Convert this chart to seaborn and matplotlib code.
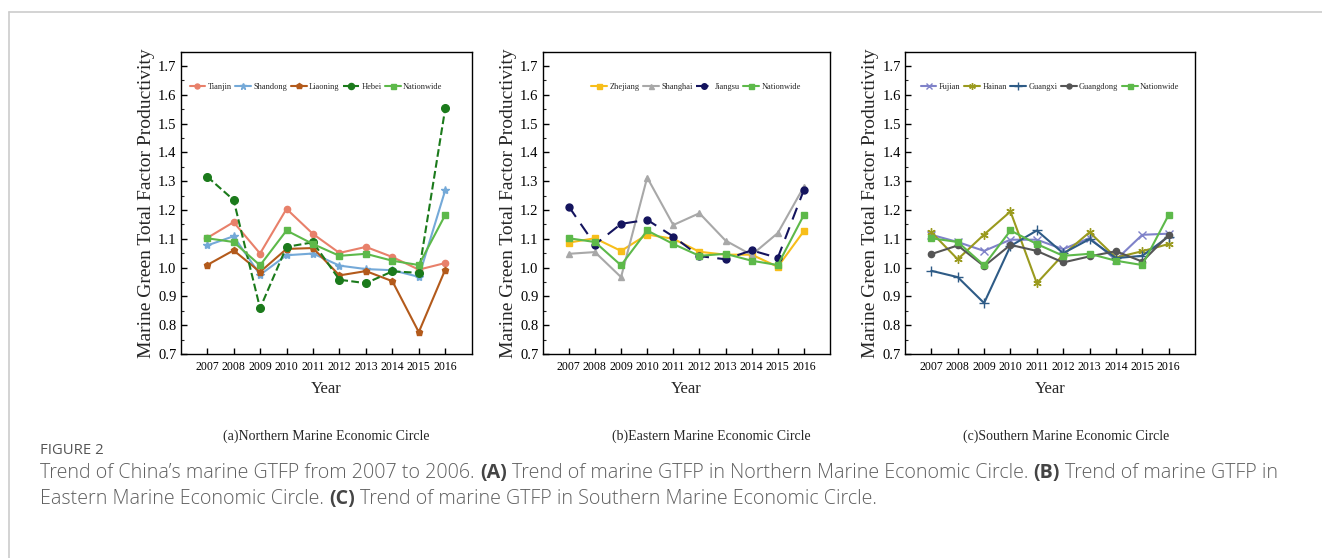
import matplotlib
matplotlib.use("Agg")
import matplotlib.pyplot as plt
from matplotlib.lines import Line2D
from matplotlib.ticker import MultipleLocator
import seaborn as sns

# ---------------- data ----------------
years = list(range(2007, 2017))

nationwide = [1.102, 1.089, 1.008, 1.129, 1.082, 1.041, 1.048, 1.024, 1.009, 1.183]

# Northern circle
tianjin = [1.103, 1.158, 1.049, 1.204, 1.117, 1.051, 1.072, 1.037, 0.993, 1.016]
shandong = [1.077, 1.109, 0.975, 1.043, 1.049, 1.007, 0.995, 0.991, 0.968, 1.269]
liaoning = [1.009, 1.060, 0.985, 1.065, 1.068, 0.973, 0.988, 0.953, 0.776, 0.993]
hebei = [1.316, 1.235, 0.859, 1.072, 1.088, 0.958, 0.946, 0.987, 0.982, 1.553]

# Eastern circle
zhejiang = [1.087, 1.102, 1.058, 1.115, 1.100, 1.055, 1.045, 1.045, 1.003, 1.127]
shanghai = [1.048, 1.054, 0.967, 1.313, 1.148, 1.189, 1.094, 1.044, 1.120, 1.281]
jiangsu = [1.212, 1.080, 1.152, 1.166, 1.108, 1.040, 1.029, 1.060, 1.034, 1.270]

# Southern circle
fujian = [1.114, 1.089, 1.058, 1.097, 1.097, 1.064, 1.103, 1.027, 1.114, 1.118]
hainan = [1.123, 1.029, 1.115, 1.195, 0.946, 1.045, 1.123, 1.035, 1.057, 1.082]
guangxi = [0.989, 0.967, 0.877, 1.075, 1.129, 1.050, 1.099, 1.033, 1.041, 1.108]
guangdong = [1.047, 1.077, 1.005, 1.079, 1.058, 1.018, 1.039, 1.057, 1.021, 1.113]

y_ticks = [0.7, 0.8, 0.9, 1.0, 1.1, 1.2, 1.3, 1.4, 1.5, 1.6, 1.7]
subtitles = ["(a)Northern Marine Economic Circle",
             "(b)Eastern Marine Economic Circle",
             "(c)Southern Marine Economic Circle"]

# ---------------- style ----------------
sns.set_style("ticks")
plt.rcParams["font.family"] = ["Liberation Serif", "DejaVu Serif"]
plt.rcParams["axes.linewidth"] = 1.0

W, H = 1322, 558
fig = plt.figure(figsize=(W / 100, H / 100), dpi=100)
fig.patch.set_facecolor("white")


def axes_px(left, top, right, bottom):
    return fig.add_axes([left / W, 1 - bottom / H, (right - left) / W, (bottom - top) / H])


# name, values, color, marker, marker size, linestyle
north = [
    ("Tianjin", tianjin, "#E8806A", "o", 4.5, "-"),
    ("Shandong", shandong, "#74A9D8", "*", 6, "-"),
    ("Liaoning", liaoning, "#B35A1B", "p", 5, "-"),
    ("Hebei", hebei, "#1B7A1B", "o", 5.5, "--"),
    ("Nationwide", nationwide, "#5DB94A", "s", 4.5, "-"),
]
east = [
    ("Zhejiang", zhejiang, "#F7BE1A", "s", 4.5, "-"),
    ("Shanghai", shanghai, "#A8A8A8", "^", 4.5, "-"),
    ("Jiangsu", jiangsu, "#14145E", "o", 5, (0, (6, 4))),
    ("Nationwide", nationwide, "#5DB94A", "s", 4.5, "-"),
]
south = [
    ("Fujian", fujian, "#7F82C9", "x", 5.5, "-"),
    ("Hainan", hainan, "#9A9A1E", (6, 2, 0), 6, "-"),
    ("Guangxi", guangxi, "#2E5B86", "+", 6.5, "-"),
    ("Guangdong", guangdong, "#555555", "o", 4.5, "-"),
    ("Nationwide", nationwide, "#5DB94A", "s", 4.5, "-"),
]

panels = [
    ((180.7, 51.7, 471.7, 354.0), north, 326, 316),
    ((542.7, 51.7, 830.0, 354.0), east, 711, 696),
    ((905.0, 51.7, 1195.0, 354.0), south, 1066, 1050),
]

for (box, series, sub_x, leg_x), sub in zip(panels, subtitles):
    ax = axes_px(*box)
    for name, vals, color, marker, ms, ls in series:
        sns.lineplot(x=years, y=vals, ax=ax, color=color, marker=marker,
                     markersize=ms, linestyle=ls, linewidth=1.5, label=name,
                     markeredgecolor=color, markeredgewidth=1.0)
    ax.set_xlim(2006, 2017)
    ax.set_ylim(0.7, 1.75)
    ax.set_xticks(years)
    ax.set_xticklabels([str(y) for y in years], fontsize=8.5)
    ax.set_yticks(y_ticks)
    ax.set_yticklabels([f"{v:.1f}" for v in y_ticks], fontsize=10.5)
    ax.yaxis.set_minor_locator(MultipleLocator(0.05))
    ax.tick_params(axis="both", which="major", direction="in", length=4, width=1,
                   pad=3, colors="black")
    ax.tick_params(axis="x", which="major", pad=5)
    ax.tick_params(axis="y", which="minor", direction="in", length=2, width=0.8)
    for sp in ax.spines.values():
        sp.set_visible(True)
        sp.set_color("black")
    ax.set_xlabel("Year", fontsize=12, labelpad=6)
    ax.set_ylabel("Marine Green Total Factor Productivity", fontsize=14)
    ax.yaxis.set_label_coords(-0.088, 0.5)

    box_left, box_top, box_right, box_bottom = box
    lx = (leg_x - box_left) / (box_right - box_left)
    ly = (box_bottom - 87) / (box_bottom - box_top)
    ax.legend(loc="center", bbox_to_anchor=(lx, ly), ncol=len(series),
              frameon=False, fontsize=6, handlelength=1.9, handletextpad=0.3,
              columnspacing=0.4, borderaxespad=0, markerscale=0.8)

    fig.text(sub_x / W, 1 - 436 / H, sub, ha="center", va="center", fontsize=10)

# ---------------- caption ----------------
cap = fig.add_axes([0, 0, 1, 1], zorder=-1)
cap.set_axis_off()
cap.set_xlim(0, W)
cap.set_ylim(H, 0)

cap_font = ["Open Sans", "DejaVu Sans"]
cap_color = "#5f5f5f"
cap.text(40, 451, "FIGURE 2", fontsize=10.7, color="#555555", family=cap_font,
         va="center", ha="left")


def caption_line(y, pieces):
    prev = None
    for txt, bold in pieces:
        kw = dict(fontsize=14.1, color="#444444" if bold else cap_color,
                  family=cap_font, fontweight="bold" if bold else "light")
        if prev is None:
            prev = cap.text(40, y, txt, va="center", ha="left", **kw)
        else:
            prev = cap.annotate(txt, xy=(1, 0), xycoords=prev, xytext=(3.8, 0),
                                textcoords="offset points", va="bottom", ha="left", **kw)


caption_line(473, [
    ("Trend of China\u2019s marine GTFP from 2007 to 2006.", False),
    ("(A)", True),
    ("Trend of marine GTFP in Northern Marine Economic Circle.", False),
    ("(B)", True),
    ("Trend of marine GTFP in", False),
])
caption_line(499, [
    ("Eastern Marine Economic Circle.", False),
    ("(C)", True),
    ("Trend of marine GTFP in Southern Marine Economic Circle.", False),
])

# card frame
fig.add_artist(Line2D([9 / W, 1], [1 - 12 / H, 1 - 12 / H], color="#cccccc", lw=1.2))
fig.add_artist(Line2D([9 / W, 9 / W], [1 - 12 / H, 0], color="#cccccc", lw=1.2))

fig.savefig("out.png", dpi=100, facecolor="white")
